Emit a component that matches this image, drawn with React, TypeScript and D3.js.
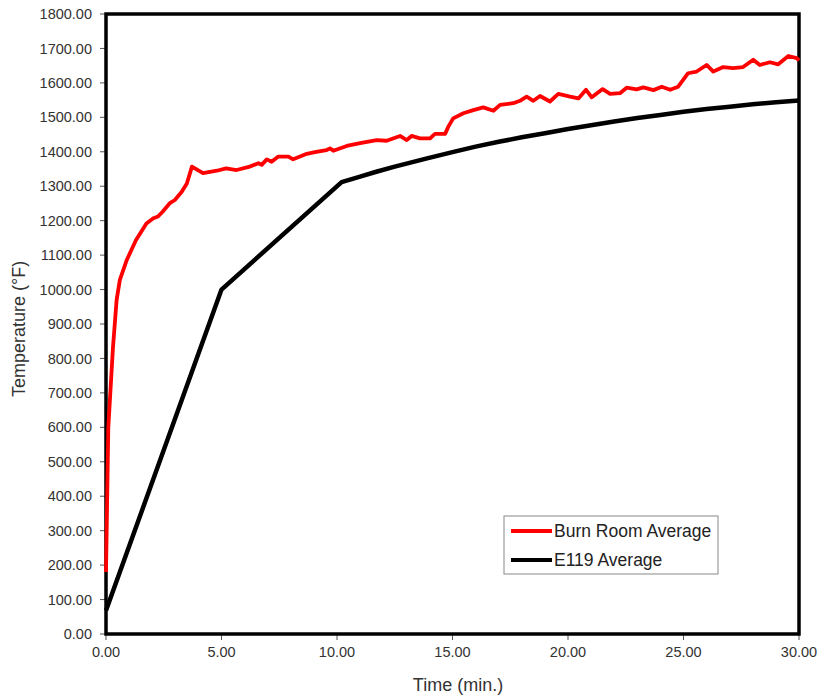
import React from "react";
import * as d3 from "d3";

const burnTime = [0, 0.1, 0.3, 0.46, 0.6, 0.9, 1.3, 1.75, 2.05, 2.25, 2.45, 2.75, 2.98, 3.28, 3.5, 3.72, 4.2, 4.8, 5.2, 5.65, 6.23, 6.6, 6.74, 6.96, 7.17, 7.46, 7.9, 8.1, 8.4, 8.69, 9.1, 9.55, 9.7, 9.84, 10.42, 11.0, 11.72, 12.15, 12.73, 13.02, 13.23, 13.59, 14.03, 14.24, 14.68, 14.82, 15.03, 15.47, 15.9, 16.33, 16.77, 17.06, 17.63, 17.92, 18.21, 18.5, 18.79, 19.22, 19.58, 20.09, 20.45, 20.78, 21.03, 21.5, 21.82, 22.25, 22.54, 22.97, 23.26, 23.7, 24.06, 24.42, 24.77, 25.2, 25.57, 26.0, 26.29, 26.72, 27.15, 27.58, 28.02, 28.3, 28.74, 29.1, 29.54, 29.9, 30];
const burnTemp = [180, 600, 830, 970, 1028, 1086, 1144, 1192, 1207, 1212, 1226, 1250, 1260, 1284, 1308, 1357, 1338, 1345, 1352, 1347, 1357, 1367, 1362, 1378, 1371, 1386, 1386, 1378, 1386, 1394, 1400, 1405, 1410, 1403, 1417, 1425, 1434, 1432, 1446, 1434, 1446, 1439, 1439, 1452, 1452, 1473, 1497, 1512, 1521, 1529, 1519, 1536, 1541, 1548, 1560, 1548, 1562, 1546, 1568, 1560, 1555, 1580, 1558, 1582, 1568, 1570, 1586, 1581, 1587, 1579, 1589, 1580, 1589, 1628, 1633, 1652, 1633, 1646, 1643, 1646, 1667, 1652, 1660, 1654, 1678, 1672, 1665];

const e119Time = [0, 5, 10.2, 11, 11.7, 12.5, 13.9, 15, 16, 17, 18, 19, 20, 21, 22, 23, 24, 25, 26, 27, 28, 29, 30];
const e119Temp = [68, 1000, 1312, 1328, 1342, 1357, 1381, 1399, 1415, 1429, 1442, 1454, 1466, 1477, 1488, 1498, 1507, 1516, 1524, 1531, 1538, 1544, 1549];

const xTicks = [0, 5, 10, 15, 20, 25, 30];
const yTicks = [0, 100, 200, 300, 400, 500, 600, 700, 800, 900, 1000, 1100, 1200, 1300, 1400, 1500, 1600, 1700, 1800];

const seriesNames = ["Burn Room Average", "E119 Average"];
const seriesColors = ["#ff0000", "#000000"];

export default function App() {
  const W = 820, H = 698;
  const left = 106, right = 799, top = 14, bottom = 634;
  const x = d3.scaleLinear().domain([0, 30]).range([left, right]);
  const y = d3.scaleLinear().domain([0, 1800]).range([bottom, top]);
  const line = d3.line<[number, number]>().x(d => x(d[0])).y(d => y(d[1]));
  const burn = burnTime.map((t, i) => [t, burnTemp[i]] as [number, number]);
  const e119 = e119Time.map((t, i) => [t, e119Temp[i]] as [number, number]);
  const font = "'Liberation Sans', Arial, sans-serif";
  const lx = 504, ly = 516, lw = 214, lh = 58;

  return (
    <svg width={W} height={H} style={{ position: "absolute", left: 0, top: 0, background: "#fff" }} fontFamily={font}>
      <rect x={0} y={0} width={W} height={H} fill="#fff" />
      {yTicks.map(v => (
        <g key={"y" + v}>
          <line x1={left - 6} x2={left} y1={y(v)} y2={y(v)} stroke="#555" strokeWidth={1} />
          <text x={92} y={y(v)} dy="0.35em" textAnchor="end" fontSize={14.5} fill="#333">{v.toFixed(2)}</text>
        </g>
      ))}
      {xTicks.map(v => (
        <g key={"x" + v}>
          <line x1={x(v)} x2={x(v)} y1={bottom} y2={bottom + 6} stroke="#555" strokeWidth={1} />
          <text x={x(v)} y={652} dy="0.35em" textAnchor="middle" fontSize={14.5} fill="#333">{v.toFixed(2)}</text>
        </g>
      ))}
      <rect x={left} y={top} width={right - left} height={bottom - top} fill="none" stroke="#000" strokeWidth={3.5} />
      <path d={line(e119) || ""} fill="none" stroke={seriesColors[1]} strokeWidth={4.5} strokeLinejoin="round" />
      <path d={line(burn) || ""} fill="none" stroke={seriesColors[0]} strokeWidth={3.8} strokeLinejoin="round" />
      <text x={458} y={685} dy="0.35em" textAnchor="middle" fontSize={18} fill="#333">Time (min.)</text>
      <text transform={`translate(19,329) rotate(-90)`} textAnchor="middle" dy="0.35em" fontSize={18} fill="#333">Temperature (°F)</text>
      <rect x={lx} y={ly} width={lw} height={lh} fill="#fff" stroke="#888" strokeWidth={1} />
      {seriesNames.map((n, i) => (
        <g key={n}>
          <line x1={lx + 7} x2={lx + 48} y1={ly + 15 + i * 29} y2={ly + 15 + i * 29} stroke={seriesColors[i]} strokeWidth={4} />
          <text x={lx + 50} y={ly + 15 + i * 29} dy="0.35em" fontSize={17.5} fill="#222">{n}</text>
        </g>
      ))}
    </svg>
  );
}
